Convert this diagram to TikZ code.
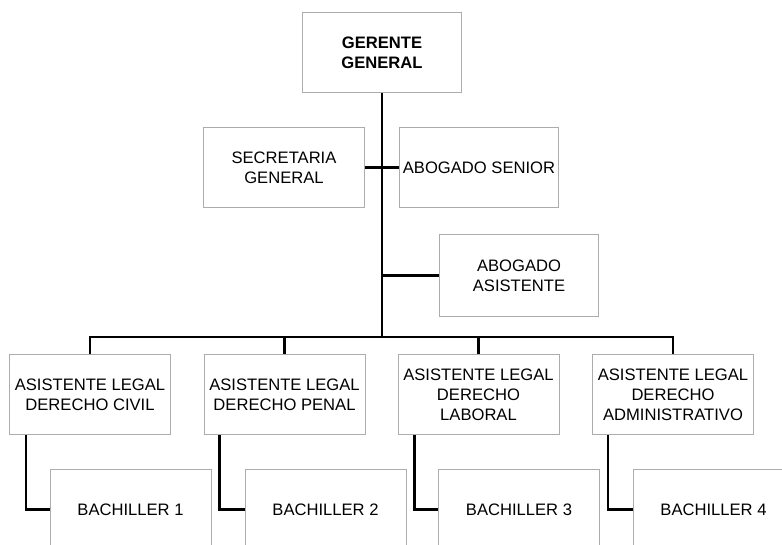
\documentclass[tikz,border=0pt]{standalone}
\usepackage{fontspec}
\setmainfont{Liberation Sans}

\begin{document}
\begin{tikzpicture}[x=1pt, y=-1pt,
  puesto/.style={draw=gray!65, line width=1pt, fill=white, minimum width=161pt, minimum height=80pt, inner sep=1pt, align=center, font=\fontsize{16.6}{20}\selectfont},
  enlace/.style={draw=black, line width=2.7pt}]
  % Page size of the chart
  \useasboundingbox (0,0) rectangle (782,545);
  \clip (0,0) rectangle (782,545);

  % Upper part of the chart
  \node[puesto, minimum width=159pt] (gerente) at (382,53) {\textbf{GERENTE}\\\textbf{GENERAL}};
  \node[puesto] (secretaria) at (284,167.5) {SECRETARIA\\GENERAL};
  \node[puesto, minimum width=159pt] (senior) at (479,167.5) {ABOGADO SENIOR};
  \node[puesto, minimum width=159pt, minimum height=82pt] (asistente) at (519,275.5) {ABOGADO\\ASISTENTE};

  % Legal assistants
  \node[puesto] (civil) at (90,394.5) {ASISTENTE LEGAL\\DERECHO CIVIL};
  \node[puesto] (penal) at (284.5,394.5) {ASISTENTE LEGAL\\DERECHO PENAL};
  \node[puesto] (laboral) at (478.5,394.5) {ASISTENTE LEGAL\\DERECHO\\LABORAL};
  \node[puesto] (admin) at (673,394.5) {ASISTENTE LEGAL\\DERECHO\\ADMINISTRATIVO};

  % Bachelors (cut by the page edge)
  \node[puesto] (bach1) at (130.5,509.5) {BACHILLER 1};
  \node[puesto] (bach2) at (325.5,509.5) {BACHILLER 2};
  \node[puesto] (bach3) at (519,509.5) {BACHILLER 3};
  \node[puesto] (bach4) at (713.5,509.5) {BACHILLER 4};

  % Connectors
  \coordinate (bus) at (382,337);
  \draw[enlace] (gerente.south) -- (bus);
  \draw[enlace] (secretaria.east) -- (senior.west);
  \draw[enlace] (asistente.west) -- (asistente.west -| bus);
  \draw[enlace] (civil.north) |- (bus) -| (admin.north);
  \draw[enlace] (penal.north) -- (penal.north |- bus);
  \draw[enlace] (laboral.north) -- (laboral.north |- bus);

  \draw[enlace] ([xshift=17pt]civil.south west) |- (bach1.west);
  \draw[enlace] ([xshift=16pt]penal.south west) |- (bach2.west);
  \draw[enlace] ([xshift=17pt]laboral.south west) |- (bach3.west);
  \draw[enlace] ([xshift=16pt]admin.south west) |- (bach4.west);
\end{tikzpicture}
\end{document}
